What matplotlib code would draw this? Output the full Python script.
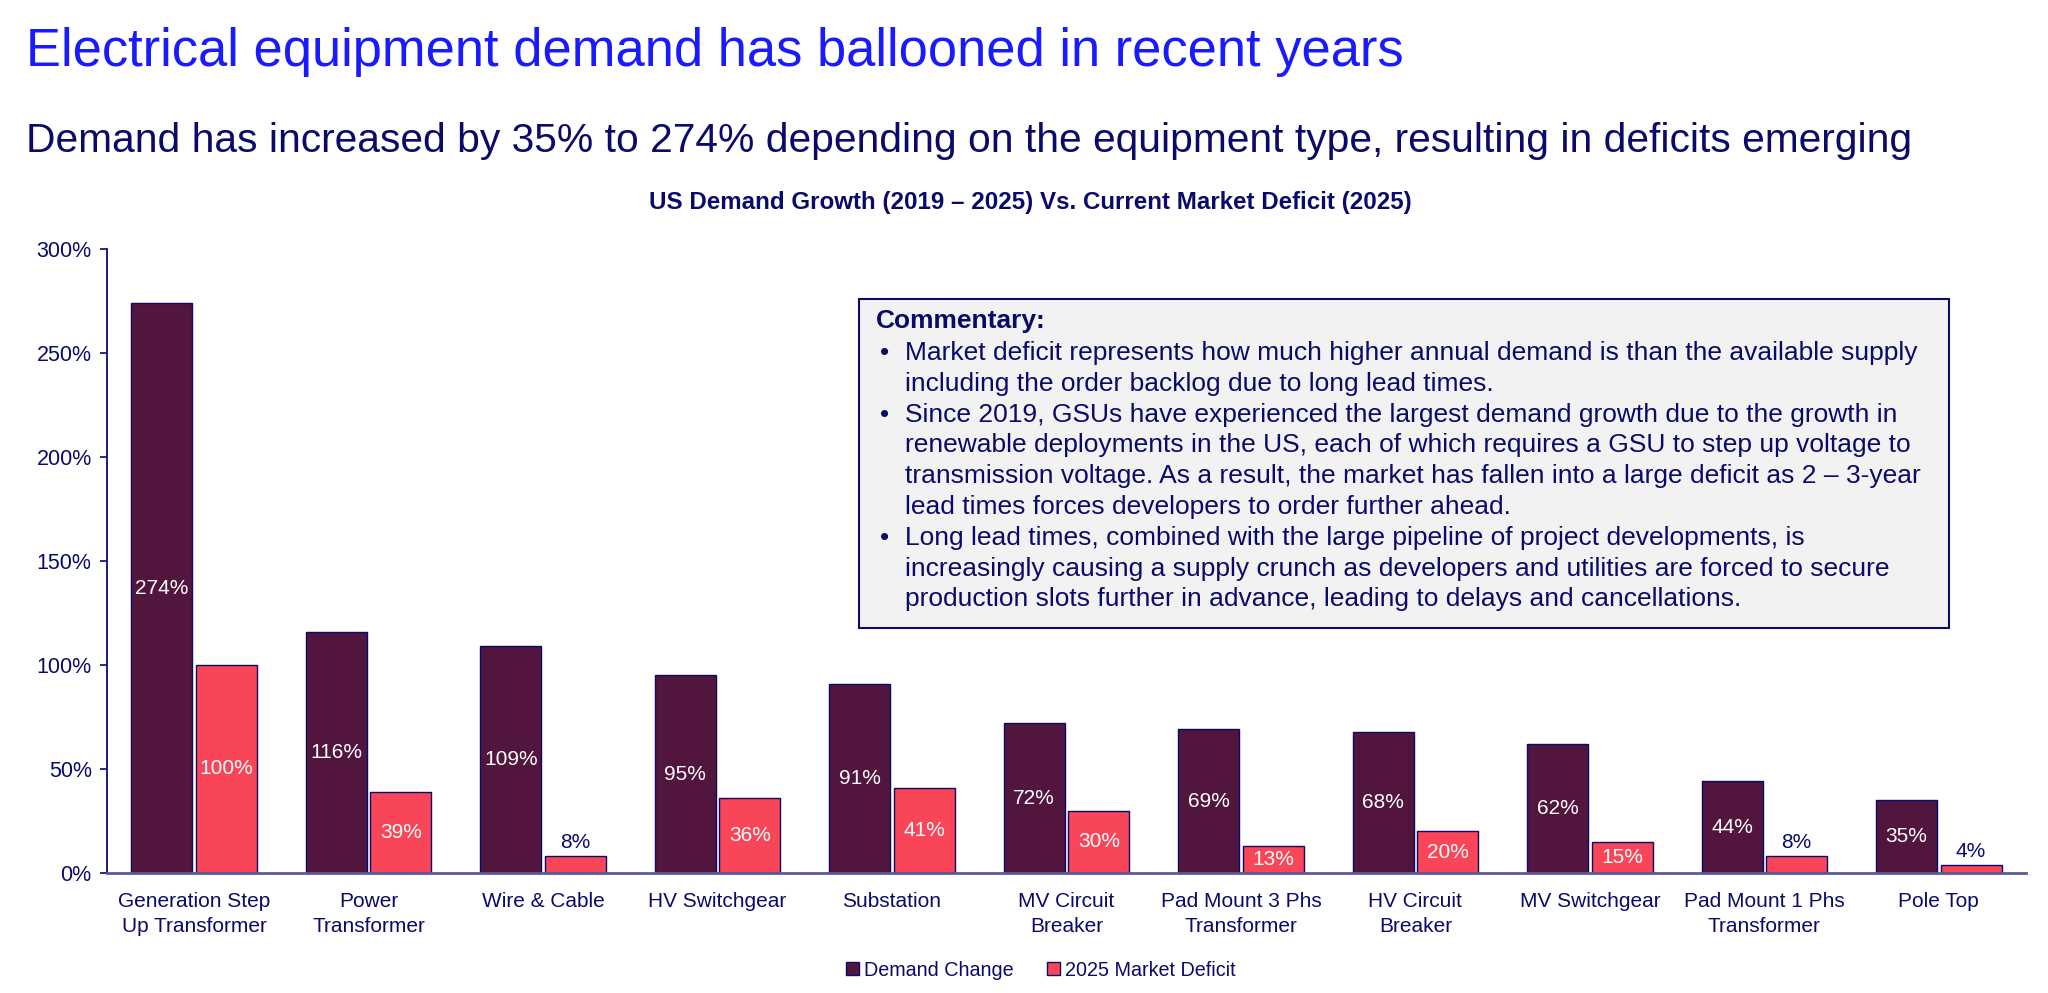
import matplotlib
matplotlib.use("Agg")
import matplotlib.pyplot as plt
import numpy as np
from matplotlib.patches import Patch, Rectangle

categories = ["Generation Step\nUp Transformer", "Power\nTransformer", "Wire & Cable",
              "HV Switchgear", "Substation", "MV Circuit\nBreaker", "Pad Mount 3 Phs\nTransformer",
              "HV Circuit\nBreaker", "MV Switchgear", "Pad Mount 1 Phs\nTransformer", "Pole Top"]
demand_change = [274, 116, 109, 95, 91, 72, 69, 68, 62, 44, 35]
market_deficit = [100, 39, 8, 36, 41, 30, 13, 20, 15, 8, 4]
yticks = [0, 50, 100, 150, 200, 250, 300]
series_names = ["Demand Change", "2025 Market Deficit"]

title = "Electrical equipment demand has ballooned in recent years"
subtitle = "Demand has increased by 35% to 274% depending on the equipment type, resulting in deficits emerging"
chart_title = "US Demand Growth (2019 \u2013 2025) Vs. Current Market Deficit (2025)"
commentary_head = "Commentary:"
commentary = [
    ["Market deficit represents how much higher annual demand is than the available supply",
     "including the order backlog due to long lead times."],
    ["Since 2019, GSUs have experienced the largest demand growth due to the growth in",
     "renewable deployments in the US, each of which requires a GSU to step up voltage to",
     "transmission voltage. As a result, the market has fallen into a large deficit as 2 \u2013 3-year",
     "lead times forces developers to order further ahead."],
    ["Long lead times, combined with the large pipeline of project developments, is",
     "increasingly causing a supply crunch as developers and utilities are forced to secure",
     "production slots further in advance, leading to delays and cancellations."],
]

plt.rcParams['font.family'] = ['Liberation Sans', 'DejaVu Sans']
NAVY = "#0a0a6b"
PURPLE = "#52153d"
RED = "#f94558"
BLUE = "#1a1aff"

W, H = 2048, 993
fig = plt.figure(figsize=(W / 100, H / 100), dpi=100)

def fx(x):
    return x / W

def fy(y):
    return 1 - y / H

ax_left, ax_right, ax_top, ax_bottom = 107, 2026, 249, 873
ax = fig.add_axes([fx(ax_left), fy(ax_bottom), (ax_right - ax_left) / W, (ax_bottom - ax_top) / H])

x = np.arange(len(categories))
bw = 0.35
off = 0.185
b1 = ax.bar(x - off, demand_change, bw, color=PURPLE, edgecolor=NAVY, linewidth=1.0, label=series_names[0])
b2 = ax.bar(x + off, market_deficit, bw, color=RED, edgecolor=NAVY, linewidth=1.0, label=series_names[1])

for bars, vals in ((b1, demand_change), (b2, market_deficit)):
    for rect, v in zip(bars, vals):
        cx = rect.get_x() + rect.get_width() / 2
        if v < 10:
            ax.text(cx, v + 2, f"{v}%", ha='center', va='bottom', color=NAVY, fontsize=15)
        else:
            ax.text(cx, v / 2, f"{v}%", ha='center', va='center', color='white', fontsize=15)

ax.set_xlim(-0.5, len(categories) - 0.5)
ax.set_ylim(0, 300)
ax.set_yticks(yticks)
ax.set_yticklabels([f"{t}%" for t in yticks])
ax.set_xticks(x)
ax.set_xticklabels(categories, linespacing=1.35)
ax.tick_params(axis='y', colors=NAVY, labelsize=15.5, length=5, width=1.2, pad=6)
ax.tick_params(axis='x', colors=NAVY, labelsize=15, length=0, pad=14)
for s in ('top', 'right'):
    ax.spines[s].set_visible(False)
ax.spines['left'].set_color(NAVY)
ax.spines['left'].set_linewidth(1.3)
ax.spines['bottom'].set_color("#5a5a9a")
ax.spines['bottom'].set_linewidth(2)

# Titles
fig.text(fx(26), fy(52), title, color=BLUE, fontsize=37.8, ha='left', va='center')
fig.text(fx(26), fy(141), subtitle, color=NAVY, fontsize=29.3, ha='left', va='center')
fig.text(fx(1030), fy(203), chart_title, color=NAVY, fontsize=17.4, fontweight='bold', ha='center', va='center')

# Commentary box
bx0, by0, bx1, by1 = 859, 299, 1949, 628
fig.patches.append(Rectangle((fx(bx0), fy(by1)), (bx1 - bx0) / W, (by1 - by0) / H,
                             transform=fig.transFigure, facecolor="#f2f2f2", edgecolor=NAVY,
                             linewidth=1.5, zorder=5))
fig.text(fx(876), fy(321), commentary_head, color=NAVY, fontsize=19, fontweight='bold',
         ha='left', va='center', zorder=6)
y = 353
step = 30.8
for para in commentary:
    fig.text(fx(880), fy(y), "\u2022", color=NAVY, fontsize=19, ha='left', va='center', zorder=6)
    for line in para:
        fig.text(fx(905), fy(y), line, color=NAVY, fontsize=19, ha='left', va='center', zorder=6)
        y += step

# Legend
handles = [Patch(facecolor=PURPLE, edgecolor=NAVY, linewidth=1.0),
           Patch(facecolor=RED, edgecolor=NAVY, linewidth=1.0)]
fig.legend(handles, series_names, loc='center', bbox_to_anchor=(fx(1041), fy(970)), ncol=2,
           frameon=False, fontsize=14.2, labelcolor=NAVY, handlelength=0.65, handleheight=0.65,
           handletextpad=0.25, columnspacing=1.7)

fig.savefig("out.png", dpi=100)
